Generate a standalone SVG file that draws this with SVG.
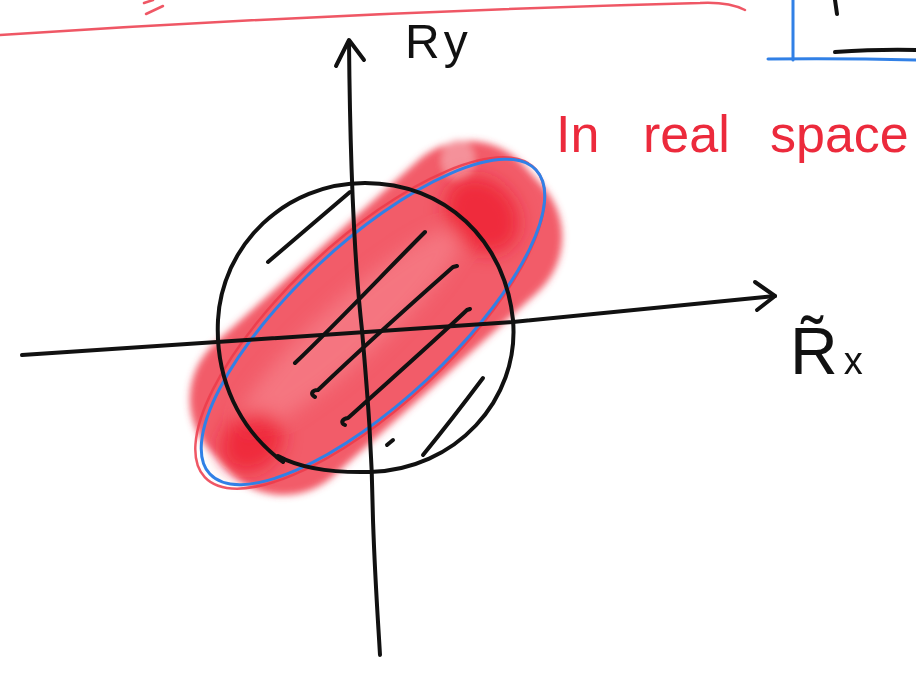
<svg xmlns="http://www.w3.org/2000/svg" width="916" height="674" viewBox="0 0 916 674">
<style>
.ink{fill:none;stroke:#111;stroke-width:4;stroke-linecap:round;stroke-linejoin:round}
.redline{fill:none;stroke:#ec3a4a;stroke-width:2.5;stroke-linecap:round;opacity:0.85}
.blueline{fill:none;stroke:#3180e6;stroke-width:3;stroke-linecap:round}
.hand{font-family:"Liberation Sans","DejaVu Sans",sans-serif}
</style>
<defs>
<filter id="blur" x="-20%" y="-20%" width="140%" height="140%"><feGaussianBlur stdDeviation="3.5"/></filter>
<filter id="blur2" x="-30%" y="-30%" width="160%" height="160%"><feGaussianBlur stdDeviation="9"/></filter>
</defs>
<rect width="916" height="674" fill="#fff"/>

<g id="top-scribbles">
<path class="redline" d="M0,35 Q350,12 700,3 C720,2 735,5 745,10" opacity="0.6"/>
<path class="redline" d="M146,14 L163,6"/>
<path class="redline" d="M144,3 L153,0"/>
<path class="blueline" d="M793,0 L793,60" stroke-width="2.5"/>
<path class="blueline" d="M768,59 Q840,58 916,60" stroke-width="2.5"/>
<path class="ink" d="M835,0 L837,14"/>
<path class="ink" d="M835,52 Q880,49 916,50" stroke-width="6"/>
</g>

<g id="shaded-region">
<g filter="url(#blur)">
<rect x="164" y="229" width="424" height="178" rx="75" transform="rotate(-42 376 318)" fill="#f0404f" opacity="0.85"/>
<ellipse cx="458" cy="160" rx="16" ry="20" fill="#f6a0a8" opacity="0.8"/>
</g>
<g filter="url(#blur2)">
<ellipse cx="350" cy="330" rx="150" ry="30" transform="rotate(-42 350 330)" fill="#f88a94" opacity="0.55"/>
<ellipse cx="482" cy="215" rx="34" ry="42" transform="rotate(-42 482 215)" fill="#ee1a2e" opacity="0.75"/>
<ellipse cx="252" cy="442" rx="34" ry="28" transform="rotate(-42 252 442)" fill="#ee1a2e" opacity="0.75"/>
</g>
</g>

<g id="ellipses">
<ellipse cx="370" cy="323" rx="226" ry="83" transform="rotate(-43 370 323)" class="redline"/>
<ellipse cx="373" cy="322" rx="223" ry="79" transform="rotate(-43 373 322)" class="blueline"/>
</g>

<g id="circle">
<path class="ink" d="M283,462 C240,430 215,380 218,320 C222,245 285,183 365,183 C445,183 505,240 513,320 C520,400 455,470 370,472 C330,473 300,468 278,456"/>
</g>

<g id="hatching">
<path class="ink" d="M268,262 L350,192"/>
<path class="ink" d="M295,363 C340,320 385,272 425,232"/>
<path class="ink" d="M315,397 C310,394 312,390 318,390 C365,345 410,305 453,267 L457,266"/>
<path class="ink" d="M345,425 C340,423 342,419 348,418 C390,380 430,345 467,310 L470,309"/>
<path class="ink" d="M387,445 L393,440"/>
<path class="ink" d="M423,455 C445,428 465,402 483,378"/>
</g>

<g id="connectors">
<path class="ink" d="M22,355 L217,342 L513,322 L775,296"/>
<path class="ink" d="M755,282 L775,296 L757,310"/>
<path class="ink" d="M349,42 C350,150 353,250 362,330 C368,400 372,450 373,520 C375,580 378,620 380,655"/>
<path class="ink" d="M336,66 L349,40 L364,60"/>
</g>

<g id="labels">
<text class="hand" x="405" y="58" font-size="48" letter-spacing="4" fill="#111">Ry</text>
<text class="hand" x="790" y="374" fill="#111"><tspan font-size="66">R̃</tspan><tspan font-size="38" dx="6">x</tspan></text>
<text class="hand" font-size="52" fill="#ec2a3c" y="152"><tspan x="556">In</tspan><tspan x="643">real</tspan><tspan x="770">space</tspan></text>
</g>
</svg>
